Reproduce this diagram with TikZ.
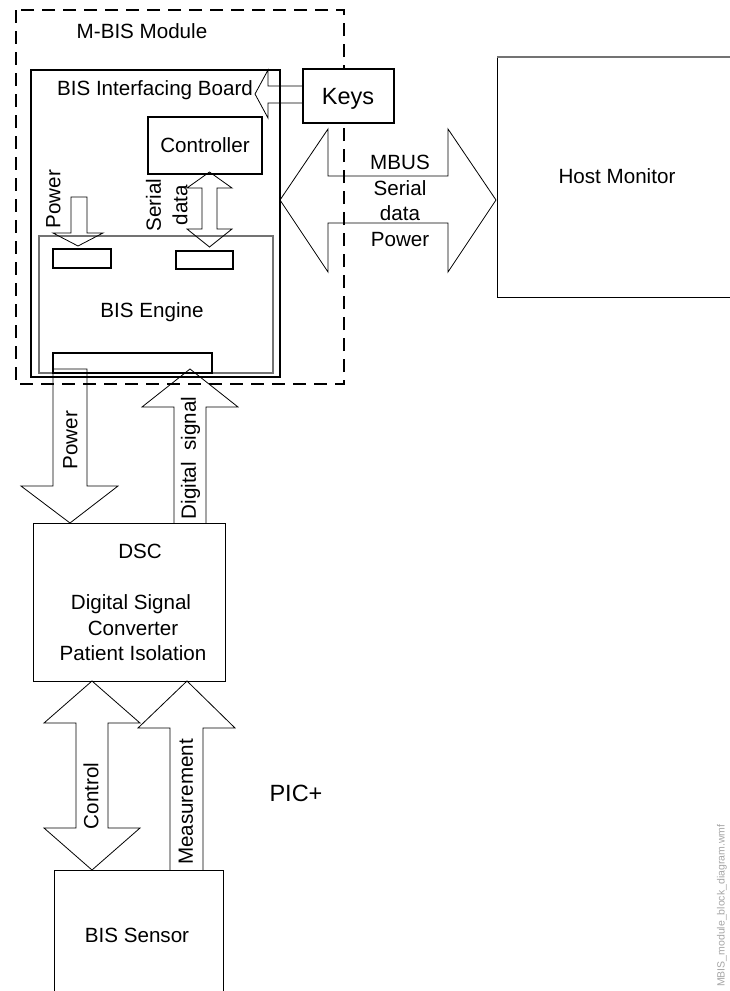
\documentclass[tikz,border=0pt]{standalone}
\usepackage{fontspec}
\setmainfont{Liberation Sans}
\begin{document}
\begin{tikzpicture}[x=1pt,y=-1pt,
  txt/.style={inner sep=0pt, font=\fontsize{20.6}{24}\selectfont, text height=14.7pt, text depth=0pt},
  bigtxt/.style={inner sep=0pt, font=\fontsize{23.5}{28}\selectfont, text height=16.8pt, text depth=0pt},
  thinline/.style={draw=black, line width=0.9pt, line join=miter},
  thickbox/.style={draw=black, line width=2pt, line join=miter},
  greybox/.style={draw=black!55, line width=1.4pt},
  blockarrow/.style={draw=black, line width=0.8pt, line join=miter}]
\useasboundingbox (0,0) rectangle (730,991);

% M-BIS module (dashed)
\draw[line width=1.7pt, dash pattern=on 13pt off 8pt] (16,10) rectangle (344,384);
\node[txt] (mbis) at (142,31) {M-BIS Module};

% MBUS double arrow
\draw[blockarrow] (280,200) -- (328,129) -- (328,176) -- (448,176) -- (448,129) -- (496,200)
  -- (448,272) -- (448,223) -- (328,223) -- (328,272) -- cycle;
\node[txt] (mbus) at (400,162) {MBUS};
\node[txt] (mser) at (400,188) {Serial};
\node[txt] (mdat) at (400,213) {data};
\node[txt] (mpow) at (400,239) {Power};

% Host monitor (cut at right edge)
\draw[thinline] (740,297) -- (497,297) -- (497,57);
\draw[draw=black!55, line width=1.2pt] (497,57) -- (740,57);
\node[txt] (host) at (617,176) {Host Monitor};

% Interfacing board
\draw[thickbox] (31,70) rectangle (280,377);
\node[txt] (board) at (155,88) {BIS Interfacing Board};

% Keys arrow
\draw[blockarrow] (303,86) -- (268,86) -- (268,70) -- (255,94) -- (268,118) -- (268,103) -- (303,103);
% Keys box
\draw[thickbox, fill=white] (303,69) rectangle (394,123);
\node[bigtxt] (keys) at (348,96) {Keys};

% Controller
\draw[thickbox] (148,117) rectangle (262,174);
\node[txt] (ctrl) at (205,145) {Controller};

% BIS Engine
\draw[greybox] (39,236) rectangle (273,373);
\node[txt] (engine) at (152,310) {BIS Engine};
\draw[thickbox] (53,249) rectangle (111,268);
\draw[thickbox] (176,251) rectangle (233,269);
\draw[thickbox] (53,353) rectangle (212,373);

% inner power arrow
\draw[blockarrow] (71,197) -- (87,197) -- (87,233) -- (103,233) -- (78,246) -- (53,233) -- (71,233) -- cycle;
\node[txt, rotate=90] (ipow) at (53,199) {Power};

% serial data double arrow
\draw[blockarrow] (209.5,172) -- (232,188) -- (217,188) -- (217,229) -- (232,229) -- (209.5,247)
  -- (187,229) -- (202,229) -- (202,188) -- (187,188) -- cycle;
\node[txt, rotate=90] (iser) at (153.5,205) {Serial};
\node[txt, rotate=90] (idat) at (180,205) {data};

% Power down to DSC
\draw[blockarrow] (53,369) -- (87,369) -- (87,486) -- (118,486) -- (70,523) -- (21,486) -- (53,486) -- cycle;
\node[txt, rotate=90] (dpow) at (70,440) {Power};

% Digital signal up
\draw[blockarrow] (174,523) -- (174,407) -- (142,407) -- (190,369) -- (238,407) -- (206,407) -- (206,523);
\node[txt, rotate=90] (dsig) at (188.5,458) {Digital\ \ signal};

% DSC
\draw[thinline] (33,523) rectangle (225,681);
\node[txt] (dsc) at (140,551) {DSC};
\node[txt] (dsc1) at (131,602) {Digital Signal};
\node[txt] (dsc2) at (133,628) {Converter};
\node[txt] (dsc3) at (133,653) {Patient Isolation};

% Control double arrow
\draw[blockarrow] (92,681) -- (140,723) -- (108,723) -- (108,828) -- (140,828) -- (92,870)
  -- (44,828) -- (76,828) -- (76,723) -- (44,723) -- cycle;
\node[txt, rotate=90] (ctl) at (91,796) {Control};

% Measurement up
\draw[blockarrow] (170,870) -- (170,728) -- (138,728) -- (187,681) -- (235,728) -- (203,728) -- (203,870);
\node[txt, rotate=90] (meas) at (185.5,802) {Measurement};

\node[bigtxt] (pic) at (296,793) {PIC+};

% BIS sensor
\draw[thinline] (54,1000) -- (54,870) -- (223,870) -- (223,1000);
\node[txt] (sensor) at (137,935) {BIS Sensor};

% file name
\node[inner sep=0pt, font=\fontsize{10.5}{12}\selectfont, text=black!35, rotate=90, anchor=west] (fname) at (722,987) {MBIS\_module\_block\_diagram.wmf};
\end{tikzpicture}
\end{document}
